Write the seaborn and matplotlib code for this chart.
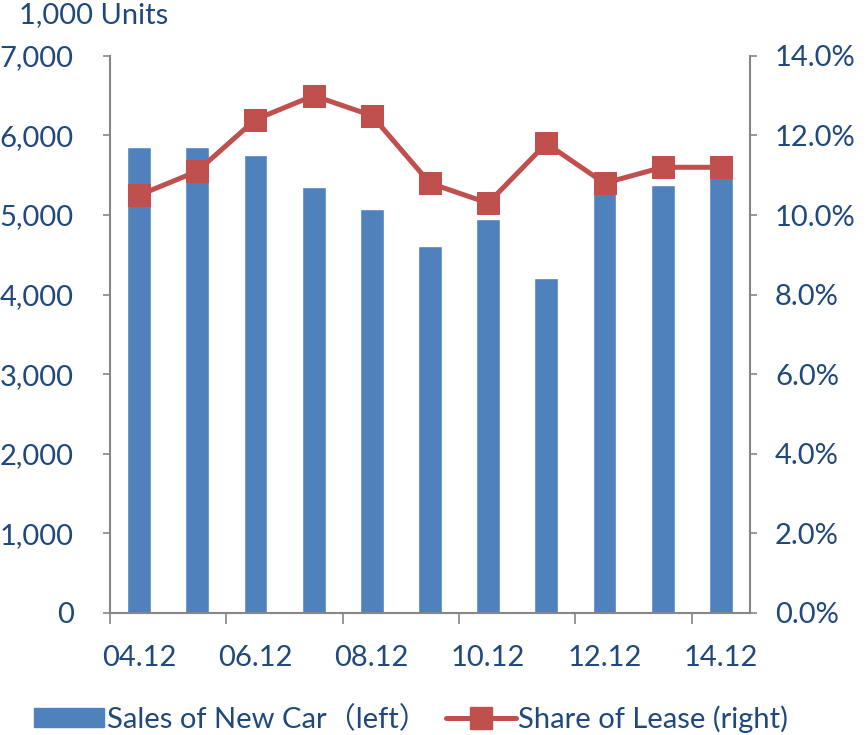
import numpy as np
import pandas as pd
import matplotlib
matplotlib.use('Agg')
import matplotlib.pyplot as plt
import seaborn as sns
from matplotlib.ticker import FuncFormatter, FixedLocator
from matplotlib.patches import Patch
from matplotlib.lines import Line2D

# data
years = ['04.12', '05.12', '06.12', '07.12', '08.12', '09.12',
         '10.12', '11.12', '12.12', '13.12', '14.12']
sales = [5850, 5850, 5750, 5350, 5070, 4610, 4950, 4210, 5380, 5380, 5580]
share = [10.5, 11.1, 12.4, 13.0, 12.5, 10.8, 10.3, 11.8, 10.8, 11.2, 11.2]

sns.set_style('white')
plt.rcParams['font.family'] = ['Lato', 'Noto Sans CJK JP', 'DejaVu Sans']

txt = '#1F497D'
bar_c = '#4F81BD'
line_c = '#C0504D'
spine_c = '#868686'
fs = 21

df = pd.DataFrame({'year': years, 'sales': sales, 'share': share, 'pos': np.arange(len(years))})

fig = plt.figure(figsize=(8.66, 7.35), dpi=100)
ax = fig.add_axes([0.127, 0.166, 0.739, 0.758])

sns.barplot(data=df, x='year', y='sales', color=bar_c, width=0.41, ax=ax, saturation=1)
ax.set_xlim(-0.5, len(years) - 0.5)
ax.set_ylim(0, 7000)
ax.set_yticks(range(0, 7001, 1000))
ax.yaxis.set_major_formatter(FuncFormatter(lambda v, p: f'{int(v):,}'))
ax.set_xlabel('')
ax.set_ylabel('')

# tick marks between groups, labels on every other bar
ax.xaxis.set_major_locator(FixedLocator(np.arange(-0.5, len(years), 2)))
ax.xaxis.set_minor_locator(FixedLocator(np.arange(0, len(years), 2)))
ax.xaxis.set_major_formatter(FuncFormatter(lambda v, p: ''))
ax.xaxis.set_minor_formatter(FuncFormatter(lambda v, p: years[int(round(v))]))
ax.tick_params(axis='x', which='major', length=8, width=1.2, color=spine_c, direction='out')
ax.tick_params(axis='x', which='minor', length=0, pad=23, labelsize=fs, labelcolor=txt)
ax.tick_params(axis='y', length=5, width=1.2, color=spine_c, direction='out', labelsize=fs, labelcolor=txt, pad=21)
ax.xaxis.set_ticks_position('bottom')
ax.yaxis.set_ticks_position('left')

ax2 = ax.twinx()
sns.lineplot(data=df, x='pos', y='share', color=line_c, linewidth=3.6, marker='s',
             markersize=15.5, markeredgecolor=line_c, ax=ax2)
ax2.set_ylim(0, 14)
ax2.set_yticks(np.arange(0, 14.1, 2))
ax2.yaxis.set_major_formatter(FuncFormatter(lambda v, p: f'{v:.1f}%'))
ax2.tick_params(axis='y', length=5, width=1.2, color=spine_c, direction='out', labelsize=fs, labelcolor=txt, pad=13)
ax2.set_xlabel('')
ax2.set_ylabel('')

for a in (ax, ax2):
    for s in a.spines.values():
        s.set_visible(False)
ax.spines['left'].set_visible(True)
ax.spines['bottom'].set_visible(True)
ax2.spines['right'].set_visible(True)
for s in (ax.spines['left'], ax.spines['bottom'], ax2.spines['right']):
    s.set_color(spine_c)
    s.set_linewidth(1.5)

fig.text(0.022, 0.997, '1,000 Units', color=txt, fontsize=fs, ha='left', va='top')

handles = [Patch(facecolor=bar_c, edgecolor=bar_c),
           Line2D([0], [0], color=line_c, linewidth=3.6, marker='s', markersize=15.5)]
fig.legend(handles, ['Sales of New Car（left）', 'Share of Lease (right)'],
           loc='lower center', bbox_to_anchor=(0.475, -0.033), ncol=2, frameon=False,
           fontsize=fs, labelcolor=txt, handlelength=2.4, handletextpad=0.1,
           columnspacing=0.6, handleheight=0.65)

fig.savefig('out.png', dpi=100)
